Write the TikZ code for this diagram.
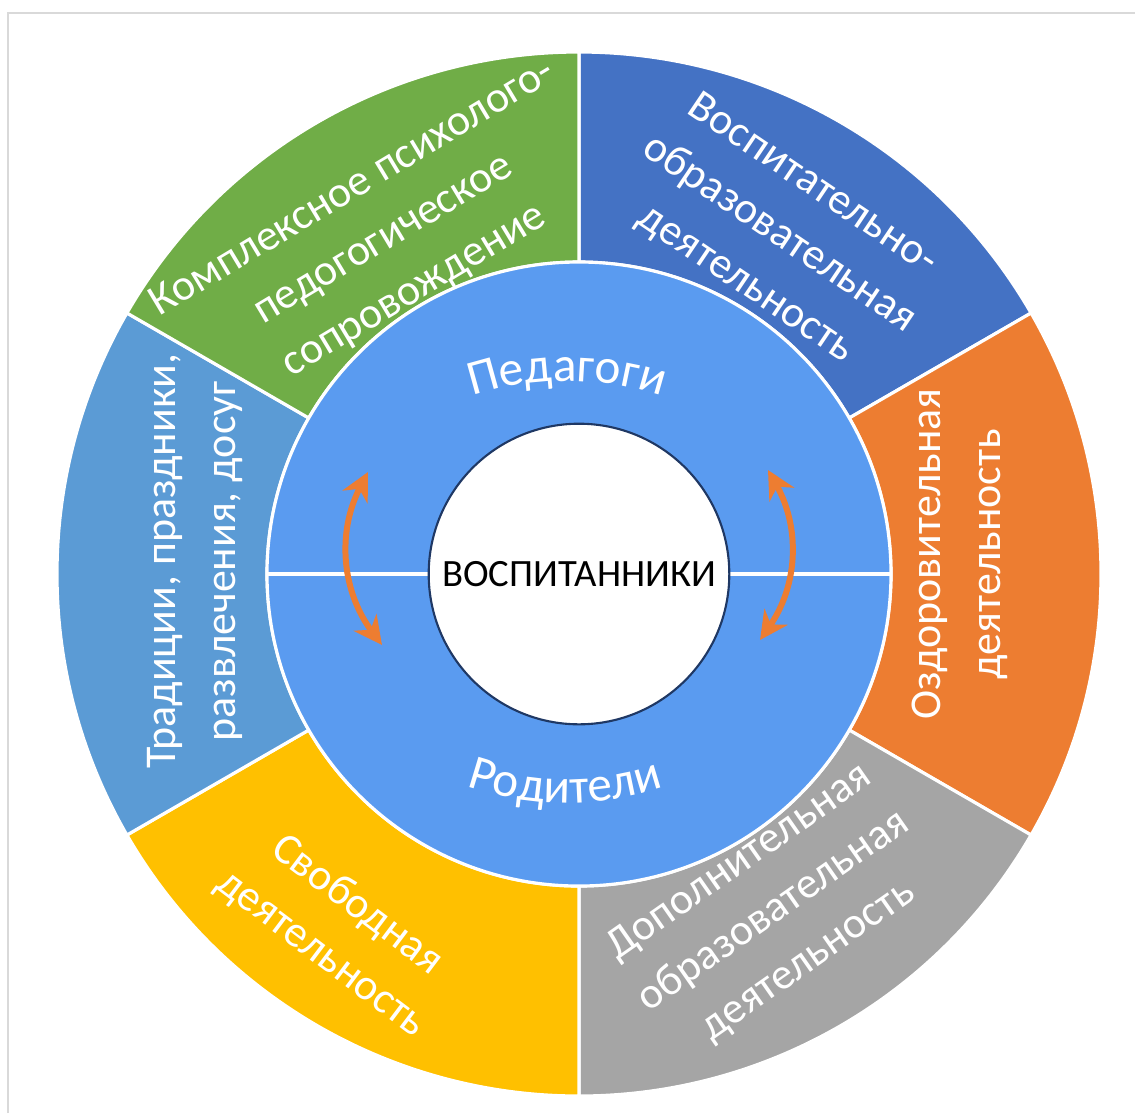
\documentclass[tikz,border=0pt]{standalone}
\usepackage{fontspec}
\setmainfont{Carlito}
\usetikzlibrary{arrows.meta,decorations.text}

\definecolor{segGreen}{HTML}{70AD47}
\definecolor{segBlue}{HTML}{4472C4}
\definecolor{segOrange}{HTML}{ED7D31}
\definecolor{segGray}{HTML}{A5A5A5}
\definecolor{segGold}{HTML}{FFC000}
\definecolor{segSky}{HTML}{5B9BD5}
\definecolor{ringBlue}{RGB}{90,155,240}
\definecolor{frameGray}{HTML}{D9D9D9}
\definecolor{coreLine}{HTML}{1F3864}

\tikzset{
  sector/.style={draw=white, line width=0.9pt},
  seglabel/.style={text=white, align=center, inner sep=0pt,
    font=\fontsize{12.5}{17}\selectfont},
  swaparrow/.style={draw=segOrange, line width=1.7pt,
    {Stealth[length=8pt,width=8pt]}-{Stealth[length=8pt,width=8pt]}},
}

\begin{document}
\begin{tikzpicture}
\useasboundingbox (-5.79,-5.39) rectangle (5.56,5.74);
\draw[frameGray, line width=0.5pt] (-5.71,-5.39) -- (-5.71,5.61) -- (5.56,5.61);

% outer ring
\foreach \a/\col in {30/segBlue, -30/segOrange, -90/segGray, 210/segGold, 150/segSky, 90/segGreen}
  \fill[\col, sector] (\a:3.12) -- (\a:5.22)
    arc[start angle=\a, end angle=\a+60, radius=5.22]
    -- ({\a+60}:3.12) arc[start angle=\a+60, end angle=\a, radius=3.12] -- cycle;

% inner ring
\fill[ringBlue, sector] (0,0) circle (3.12);
\draw[white, line width=0.9pt] (180:3.12) -- (0:3.12);
\node (core) at (0,0) [circle, draw=coreLine, fill=white, line width=0.6pt,
  minimum size=2.92cm, font=\fontsize{11}{13}\selectfont] {ВОСПИТАННИКИ};

\path[decorate, decoration={text along path, text align=center, text color=white,
  text={|\fontsize{14}{16}\selectfont|Педагоги}}]
  (-0.12,-1.07) ++(120:3) arc[start angle=120, end angle=60, radius=3];
\path[decorate, decoration={text along path, text align=center, text color=white,
  text={|\fontsize{14}{16}\selectfont|Родители}}]
  (-0.14,0.71) ++(240:3) arc[start angle=240, end angle=300, radius=3];

% segment texts
\node (care) at (120.3:3.87) [seglabel, rotate=31] {Комплексное психолого-\\педогогическое\\сопровождение};
\node (upbring) at (59.5:3.94) [seglabel, rotate=-34] {Воспитательно-\\образовательная\\деятельность};
\node (health) at (3:3.81) [seglabel, rotate=90] {Оздоровительная\\деятельность};
\node (extra) at (-60:3.9) [seglabel, rotate=35] {Дополнительная\\образовательная\\деятельность};
\node (free) at (236:4.29) [seglabel, rotate=-37] {Свободная\\деятельность};
\node (leisure) at (178.1:3.84) [seglabel, rotate=90] {Традиции, праздники,\\развлечения, досуг};

% arrows
\coordinate (lt) at (-2.11,1.02);
\coordinate (lb) at (-1.97,-0.71);
\coordinate (rt) at (1.89,1.04);
\coordinate (rb) at (1.81,-0.66);
\draw[swaparrow] (lt) to[bend right=32] (lb);
\draw[swaparrow] (rt) to[bend left=32] (rb);

\end{tikzpicture}
\end{document}
